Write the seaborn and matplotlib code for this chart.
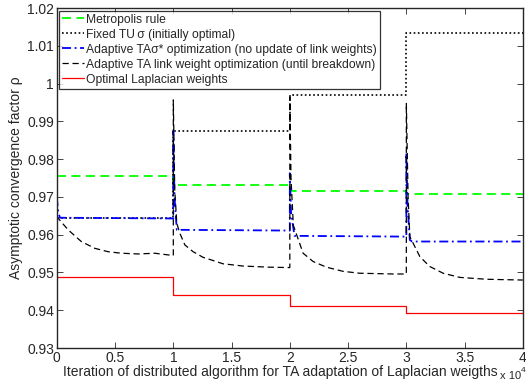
import numpy as np
import pandas as pd
import matplotlib
matplotlib.use("Agg")
import matplotlib.pyplot as plt
from matplotlib.ticker import FuncFormatter, MultipleLocator
import seaborn as sns

# step series: one value per block of 10^4 iterations
block_edges = [0, 1, 2, 3, 4]   # x 10^4
metropolis = [0.9756, 0.9732, 0.9717, 0.9707]
fixed_tu = [0.9643, 0.9875, 0.9970, 1.0134]
optimal_lap = [0.9487, 0.9440, 0.9412, 0.9394]

# adaptive TA sigma* (blue)
ta_sigma_x = [0, 0.01, 0.026, 1.0, 1.0, 1.01, 1.03, 2.0, 2.0, 2.01, 2.04, 3.0, 3.0, 3.01, 3.03, 3.05, 4.0]
ta_sigma_y = [0.9700, 0.9665, 0.9645, 0.9643, 0.9875, 0.9700, 0.9613, 0.9611, 0.9763, 0.9660, 0.9597,
              0.9595, 0.9816, 0.9680, 0.9586, 0.9582, 0.9582]

# adaptive TA link weight optimization (black dashed)
ta_link_x = [0, 0.01, 0.097, 0.21, 0.326, 0.44, 0.555, 0.70, 0.84, 0.996, 1.0,
             1.0, 1.012, 1.03, 1.056, 1.099, 1.17, 1.256, 1.328, 1.427, 1.60, 1.83, 2.0,
             2.0, 2.01, 2.03, 2.114, 2.2, 2.315, 2.458, 2.6, 2.887, 3.0,
             3.0, 3.015, 3.03, 3.116, 3.2, 3.316, 3.459, 3.69, 4.0]
ta_link_y = [0.9650, 0.9644, 0.9613, 0.9582, 0.9564, 0.9555, 0.9551, 0.9549, 0.9551, 0.9545, 0.9545,
             0.9957, 0.9720, 0.9630, 0.9604, 0.9573, 0.9555, 0.9540, 0.9533, 0.9523, 0.9517, 0.9514, 0.9513,
             0.9965, 0.9750, 0.9625, 0.9551, 0.9529, 0.9514, 0.9503, 0.9498, 0.9496, 0.9496,
             0.9949, 0.9700, 0.9595, 0.9542, 0.9516, 0.9498, 0.9487, 0.9482, 0.9480]

labels = ["Metropolis rule",
          "Fixed TU\u2009σ (initially optimal)",
          "Adaptive TAσ* optimization (no update of link weights)",
          "Adaptive TA link weight optimization (until breakdown)",
          "Optimal Laplacian weights"]

sns.set_style("ticks")
plt.rcParams['font.family'] = ['Liberation Sans', 'DejaVu Sans']
plt.rcParams['font.size'] = 8

fig = plt.figure(figsize=(5.26, 3.81), dpi=100)
ax = fig.add_axes([0.108, 0.0866, 0.886, 0.892])

edges = np.array(block_edges) * 1e4


def steps(vals):
    return list(vals) + [vals[-1]]


sns.lineplot(x=edges, y=steps(metropolis), ax=ax, color="#00ff00", ls=(0, (5, 3)), lw=1.3,
             drawstyle="steps-post", label=labels[0], estimator=None, sort=False)
sns.lineplot(x=edges, y=steps(fixed_tu), ax=ax, color="black", ls=(0, (1, 1.5)), lw=1.2,
             drawstyle="steps-post", label=labels[1], estimator=None, sort=False)
sns.lineplot(x=np.array(ta_sigma_x) * 1e4, y=ta_sigma_y, ax=ax, color="#0000ff", ls=(0, (5, 2, 1, 2)),
             lw=1.3, label=labels[2], estimator=None, sort=False)
sns.lineplot(x=np.array(ta_link_x) * 1e4, y=ta_link_y, ax=ax, color="black", ls=(0, (5, 3)), lw=0.9,
             label=labels[3], estimator=None, sort=False)
sns.lineplot(x=edges, y=steps(optimal_lap), ax=ax, color="#ff0000", ls="-", lw=0.9,
             drawstyle="steps-post", label=labels[4], estimator=None, sort=False)

ax.set_xlim(0, 4e4)
ax.set_ylim(0.93, 1.02)
ax.xaxis.set_major_locator(MultipleLocator(5000))
ax.yaxis.set_major_locator(MultipleLocator(0.01))
ax.xaxis.set_major_formatter(FuncFormatter(lambda v, p: "%g" % round(v / 1e4, 2)))
ax.yaxis.set_major_formatter(FuncFormatter(lambda v, p: "%g" % round(v, 3)))
ax.tick_params(direction="in", top=True, right=True, length=4, width=0.6, labelsize=10, pad=2)
for s in ax.spines.values():
    s.set_linewidth(1.0)

ax.set_xlabel("Iteration of distributed algorithm for TA adaptation of Laplacian weigths",
              fontsize=10, labelpad=0, x=0.48)
ax.set_ylabel("Asymptotic convergence factor ρ", fontsize=10, labelpad=3)
fig.text(0.990, 0.0, "x 10", fontsize=8, ha="right", va="bottom")
fig.text(0.991, 0.019, "4", fontsize=6, ha="left", va="bottom")

leg = ax.legend(loc="upper left", fontsize=8.7, frameon=True, fancybox=False, edgecolor="black",
                handlelength=1.8, handletextpad=0.2, labelspacing=0.25, borderpad=0.25, borderaxespad=0.2)
leg.get_frame().set_linewidth(0.9)

fig.savefig("out.png", dpi=100)
